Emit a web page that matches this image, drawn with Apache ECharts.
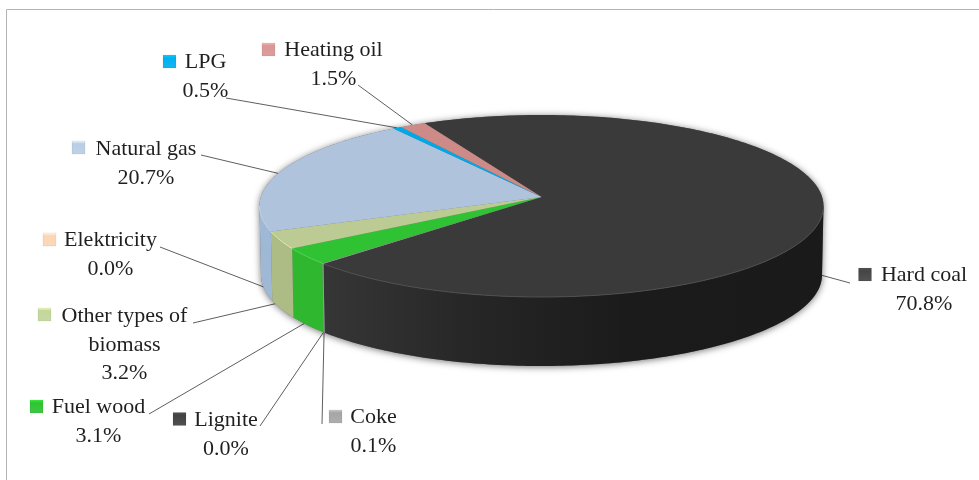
<!DOCTYPE html>
<html>
<head>
<meta charset="utf-8">
<style>html,body{margin:0;padding:0;background:#fff}#chart{width:979px;height:480px}</style>
<script src="https://cdn.jsdelivr.net/npm/echarts@6/dist/echarts.min.js"></script>
</head>
<body>
<div id="chart"></div>
<script>
// Fuel shares, clockwise from the start of the hard coal slice
const fuelNames = ['Hard coal', 'Coke', 'Lignite', 'Fuel wood', 'Other types of biomass', 'Elektricity', 'Natural gas', 'LPG', 'Heating oil'];
const fuelShares = [70.8, 0.1, 0.0, 3.1, 3.2, 0.0, 20.7, 0.5, 1.5];

const keyColors = ['#454545', '#a6a6a6', '#424242', '#2ec432', '#c3d69b', '#fcd5b5', '#b9cde5', '#00b0f0', '#d99694'];
const topColors = ['#3a3a3a', '#a0a0a0', '#3a3a3a', '#2fc232', '#bccb94', '#f5cfae', '#afc4dc', '#00a8e8', '#cd8a87'];
const wallColors = ['#1c1c1c', '#9a9a9a', '#333333', '#2fb72f', '#adbb85', '#e5c0a0', '#9fb8d6', '#0097d0', '#b97c79'];
const rimColors = ['#505050', '#b0b0b0', '#505050', '#58d458', '#e2e9b4', '#f8dcc2', '#c6d7ea', '#30c0f0', '#dca5a2'];

// Label layout: text centre, first line centre, key corner, leader start
const labelCentreX = [924, 373.5, 226, 98.5, 124.5, 110.5, 146, 205.5, 333.5];
const labelFirstY = [275, 417, 420, 407, 316, 240, 149, 62, 50];
const keyLeft = [858.5, 329, 173, 30, 38, 43, 72, 163, 262];
const keyTop = [268, 410, 412.5, 400, 308, 233, 141, 55, 43];
const leaderStart = [[850, 283], [322, 424], [260, 426], [149, 414], [193, 323], [160, 247], [201, 155], [226, 98], [358, 85]];
// How far down the side wall each leader meets the pie (0 = top rim, 1 = bottom rim)
const leaderDepth = [0.68, 1, 1, 0.95, 0.9, 0.85, 0, 0, 0];

const labelLines = [
  ['Hard coal', '70.8%'],
  ['Coke', '0.1%'],
  ['Lignite', '0.0%'],
  ['Fuel wood', '3.1%'],
  ['Other types of', 'biomass', '3.2%'],
  ['Elektricity', '0.0%'],
  ['Natural gas', '20.7%'],
  ['LPG', '0.5%'],
  ['Heating oil', '1.5%']
];

// Tilted disc geometry
const apex = [541.5, 197];
const rimTop = { cx: 541.5, cy: 206, rx: 282, ry: 91 };
const rimBottom = { cx: 541.5, cy: 275, rx: 280.5, ry: 91 };
const startAngle = -24.5;
const TEXT_FONT = '22px "Liberation Serif", serif';
const LINE_GAP = 28.8;

const total = fuelShares.reduce((a, b) => a + b, 0);

function rimPoint(rim, deg) {
  const r = deg * Math.PI / 180;
  return [rim.cx + rim.rx * Math.sin(r), rim.cy - rim.ry * Math.cos(r)];
}
function arc(rim, from, to) {
  const pts = [];
  const steps = Math.max(1, Math.ceil(Math.abs(to - from)));
  for (let i = 0; i <= steps; i++) pts.push(rimPoint(rim, from + (to - from) * i / steps));
  return pts;
}
function sliceAngles(index) {
  let before = 0;
  for (let i = 0; i < index; i++) before += fuelShares[i];
  const a0 = startAngle + before / total * 360;
  return [a0, a0 + fuelShares[index] / total * 360];
}

// Soft shadow under the whole disc
function renderShadow() {
  const outline = arc(rimTop, -90, 90).concat(arc(rimBottom, 90, 270));
  return {
    type: 'polygon',
    shape: { points: outline },
    style: { fill: '#777', shadowColor: 'rgba(0,0,0,0.55)', shadowBlur: 7, shadowOffsetY: 1 }
  };
}

// Leader lines sit behind the disc, keyed to each slice's mid angle
function renderLeader(params, api) {
  const i = params.dataIndex;
  const [a0, a1] = sliceAngles(i);
  const mid = (a0 + a1) / 2;
  const t = rimPoint(rimTop, mid);
  const b = rimPoint(rimBottom, mid);
  const d = leaderDepth[i];
  return {
    type: 'polyline',
    shape: { points: [leaderStart[i], [t[0] + (b[0] - t[0]) * d, t[1] + (b[1] - t[1]) * d]] },
    style: { stroke: '#5f5f5f', lineWidth: 1, fill: null }
  };
}

// Side wall and top face of one slice
function renderSlice(params, api) {
  const i = params.dataIndex;
  const value = api.value(0);
  const children = [];
  if (value > 0) {
    const [a0, a1] = sliceAngles(i);
    const from = Math.max(a0, 90);
    const to = Math.min(a1, 270);
    if (to > from) {
      const wallFill = i === 0
        ? new echarts.graphic.LinearGradient(0, 0, 1, 0, [
            { offset: 0, color: '#363636' },
            { offset: 0.3, color: '#262626' },
            { offset: 0.6, color: '#1b1b1b' },
            { offset: 1, color: '#1a1a1a' }
          ])
        : wallColors[i];
      children.push({
        type: 'polygon',
        shape: { points: arc(rimTop, from, to).concat(arc(rimBottom, to, from)) },
        style: { fill: wallFill }
      });
    }
    children.push({
      type: 'polygon',
      shape: { points: [apex].concat(arc(rimTop, a0, a1)) },
      style: { fill: topColors[i] }
    });
    if (to > from) {
      children.push({
        type: 'polyline',
        shape: { points: arc(rimTop, from, to) },
        style: { stroke: rimColors[i], lineWidth: 1, fill: null }
      });
    }
  }
  return { type: 'group', children };
}

// Legend key and centred text block of one slice
function renderLabel(params) {
  const i = params.dataIndex;
  const base = keyColors[i];
  const children = [{
    type: 'rect',
    shape: { x: keyLeft[i], y: keyTop[i], width: 13, height: 13 },
    style: {
      fill: new echarts.graphic.LinearGradient(0, 0, 0, 1, [
        { offset: 0, color: echarts.color.lift(base, -0.25) },
        { offset: 0.22, color: base },
        { offset: 1, color: echarts.color.lift(base, 0.08) }
      ]),
      stroke: 'rgba(0,0,0,0.12)',
      lineWidth: 0.5
    }
  }];
  labelLines[i].forEach((line, k) => {
    children.push({
      type: 'text',
      style: {
        text: line,
        x: labelCentreX[i],
        y: labelFirstY[i] + k * LINE_GAP,
        align: 'center',
        verticalAlign: 'middle',
        font: TEXT_FONT,
        fill: '#1f1f1f'
      }
    });
  });
  return { type: 'group', children };
}

const chart = echarts.init(document.getElementById('chart'), null, { renderer: 'canvas' });
const seriesData = fuelShares.map((v, i) => ({ name: fuelNames[i], value: [v] }));

chart.setOption({
  animation: false,
  backgroundColor: '#ffffff',
  graphic: [{
    type: 'rect',
    silent: true,
    shape: { x: 6.5, y: 9.5, width: 1000, height: 520 },
    style: { fill: 'none', stroke: '#b4b4b4', lineWidth: 1 }
  }],
  series: [
    { type: 'custom', coordinateSystem: 'none', silent: true, z: 1, renderItem: renderLeader, data: seriesData },
    { type: 'custom', coordinateSystem: 'none', silent: true, z: 2, renderItem: renderShadow, data: [[1]] },
    { type: 'custom', coordinateSystem: 'none', silent: true, z: 3, renderItem: renderSlice, data: seriesData },
    { type: 'custom', coordinateSystem: 'none', silent: true, z: 4, renderItem: renderLabel, data: seriesData }
  ]
});
</script>
</body>
</html>
